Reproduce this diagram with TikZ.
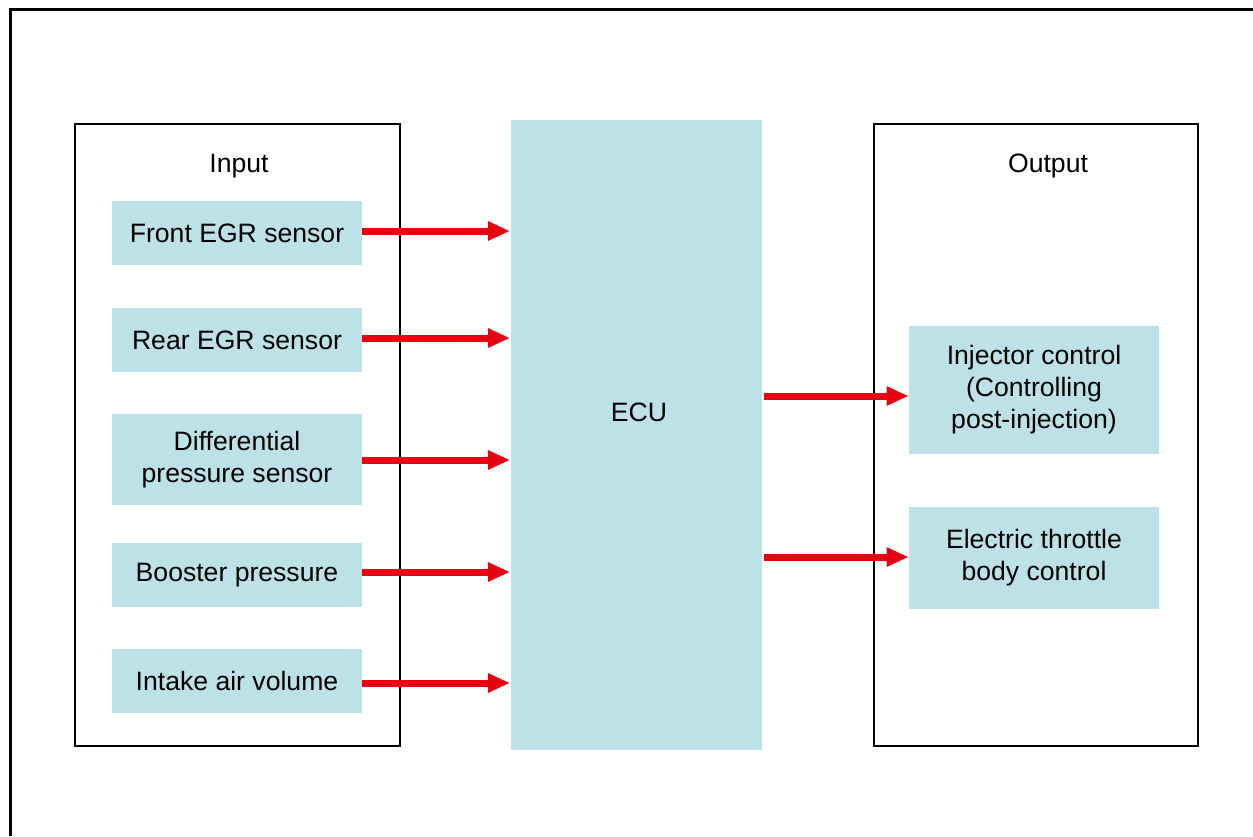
\documentclass[tikz,border=0pt]{standalone}
\usepackage{fontspec}
\setmainfont{Liberation Sans}
\usetikzlibrary{arrows.meta}
\definecolor{boxblue}{HTML}{BCE2E8}
\definecolor{arrred}{HTML}{E60012}
\begin{document}
\begin{tikzpicture}[x=0.5pt,y=-0.5pt,
  frame/.style={draw=black,line width=1.4pt},
  item/.style={fill=boxblue,draw=none,minimum width=125pt,inner sep=0pt,align=center,font=\fontsize{13.3pt}{16pt}\selectfont,
    execute at begin node={\vspace*{1.5pt}}},
  lbl/.style={font=\fontsize{13.3pt}{16pt}\selectfont,inner sep=0pt},
  arr/.style={draw=arrred,line width=3.5pt,-{Triangle[length=11pt,width=9pt]}}]
\useasboundingbox (0,0) rectangle (1253,836);
% outer frame
\draw[line width=1.5pt] (10,836) -- (10,9) -- (1253,9);
% input and output frames
\node[frame,minimum width=162.5pt,minimum height=311pt,inner sep=0pt] (in) at (237.5,435) {};
\node[frame,minimum width=162pt,minimum height=311pt,inner sep=0pt] (out) at (1036,435) {};
\node[lbl] (inl) at (239,166) {Input};
\node[lbl] (outl) at (1048,166) {Output};
% ECU
\node[fill=boxblue,minimum width=125.5pt,minimum height=315pt,inner sep=0pt] (ecu) at (636.5,435) {};
\node[lbl] (ecul) at (639,412) {ECU};
% input items
\node[item,minimum height=32pt] (i1) at (237,233) {Front EGR sensor};
\node[item,minimum height=32pt] (i2) at (237,340) {Rear EGR sensor};
\node[item,minimum height=45.5pt] (i3) at (237,459.5) {Differential\\pressure sensor};
\node[item,minimum height=32pt] (i4) at (237,575) {Booster pressure};
\node[item,minimum height=32pt] (i5) at (237,681) {Intake air volume};
% output items
\node[item,minimum height=64pt] (o1) at (1034,390) {Injector control\\(Controlling\\post-injection)};
\node[item,minimum height=51pt] (o2) at (1034,558) {Electric throttle\\body control};
% arrows
\coordinate (e1) at (510,231);
\coordinate (e2) at (510,338);
\coordinate (e3) at (510,460);
\coordinate (e4) at (510,572);
\coordinate (e5) at (510,683);
\draw[arr] (i1.east |- e1) -- (e1);
\draw[arr] (i2.east |- e2) -- (e2);
\draw[arr] (i3.east |- e3) -- (e3);
\draw[arr] (i4.east |- e4) -- (e4);
\draw[arr] (i5.east |- e5) -- (e5);
\coordinate (s1) at (764,396);
\coordinate (s2) at (764,557);
\draw[arr] (s1) -- (o1.west |- s1);
\draw[arr] (s2) -- (o2.west |- s2);
\end{tikzpicture}
\end{document}
